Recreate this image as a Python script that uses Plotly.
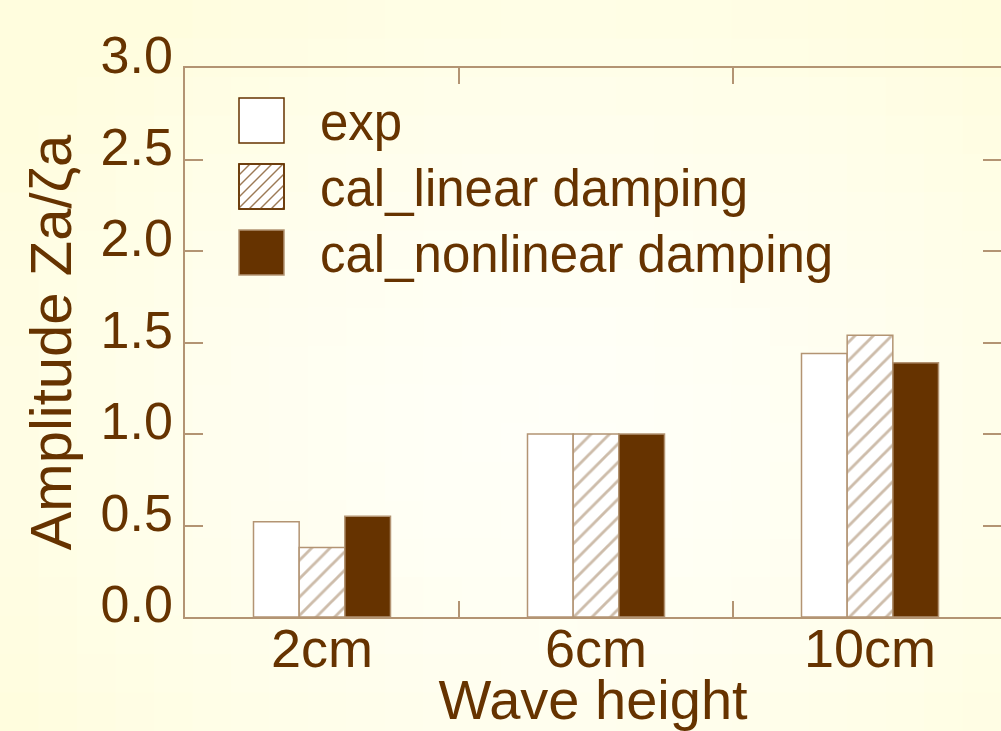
import plotly.graph_objects as go
import math

# ---- data ----
categories = ["2cm", "6cm", "10cm"]
exp_vals = [0.52, 1.00, 1.44]
cal_linear = [0.38, 1.00, 1.54]
cal_nonlinear = [0.55, 1.00, 1.39]
series_names = ["exp", "cal_linear damping", "cal_nonlinear damping"]
y_ticks = [0.0, 0.5, 1.0, 1.5, 2.0, 2.5, 3.0]
y_ticktext = ["0.0", "0.5", "1.0", "1.5", "2.0", "2.5", "3.0"]

BROWN = "#663300"
TAN = "#b39473"
HATCH = "#9c7a56"
FONT = "Arial, Liberation Sans, sans-serif"

W, H = 1001, 731
L, T, B, R = 185, 68, 114, 0
PW = W - L - R
PH = H - T - B


def px(x):
    return (x - L) / PW


def py(y):
    return (H - B - y) / PH


fig = go.Figure()
fig.add_trace(go.Bar(x=categories, y=exp_vals, name=series_names[0],
                     marker=dict(color="white", line=dict(color=TAN, width=1.5))))
fig.add_trace(go.Bar(x=categories, y=cal_linear, name=series_names[1],
                     marker=dict(color="white", line=dict(color=TAN, width=1.5),
                                 pattern=dict(shape="/", fgcolor=HATCH, bgcolor="white",
                                              size=13, solidity=0.22))))
fig.add_trace(go.Bar(x=categories, y=cal_nonlinear, name=series_names[2],
                     marker=dict(color=BROWN, line=dict(color=TAN, width=1.5))))

shapes = []
# background radial gradient
nx, ny = 26, 19
cx, cy = 560, 430
for i in range(nx):
    for j in range(ny):
        x0 = i * W / nx
        x1 = (i + 1) * W / nx
        y0 = j * H / ny
        y1 = (j + 1) * H / ny
        xm, ym = (x0 + x1) / 2, (y0 + y1) / 2
        d = math.hypot((xm - cx) / 1.0, (ym - cy) / 0.8)
        t = min(1.0, d / 650.0) ** 1.5
        g = round(255 - 2 * t)
        b = round(248 - 26 * t)
        shapes.append(dict(type="rect", xref="paper", yref="paper",
                           x0=px(x0), x1=px(x1 + 1), y0=py(y1 + 1), y1=py(y0),
                           fillcolor=f"rgb(255,{g},{b})", line=dict(width=0),
                           layer="below"))

# custom legend
bx0, bx1 = 239, 284
boxes = [(98, 143), (164, 209), (230, 275)]
fills = ["white", "white", BROWN]
for (y0, y1), fc in zip(boxes, fills):
    shapes.append(dict(type="rect", xref="paper", yref="paper",
                       x0=px(bx0), x1=px(bx1), y0=py(y1), y1=py(y0),
                       fillcolor=fc, line=dict(color=TAN if fc == BROWN else BROWN, width=1.5)))
y0, y1 = boxes[1]
size = bx1 - bx0
step = 11
for k in range(-size, size + step, step):
    pts = []
    for u in (0, size):
        v = u - k
        if 0 <= v <= (y1 - y0):
            pts.append((u, v))
    for v in (0, y1 - y0):
        u = v + k
        if 0 <= u <= size:
            pts.append((u, v))
    pts = sorted(set(pts))
    if len(pts) >= 2:
        (ua, va), (ub, vb) = pts[0], pts[-1]
        if (ua, va) != (ub, vb):
            shapes.append(dict(type="line", xref="paper", yref="paper",
                               x0=px(bx0 + ua), y0=py(y1 - va),
                               x1=px(bx0 + ub), y1=py(y1 - vb),
                               line=dict(color=HATCH, width=1.5)))
shapes.append(dict(type="rect", xref="paper", yref="paper",
                   x0=px(bx0), x1=px(bx1), y0=py(y1), y1=py(y0),
                   line=dict(color=BROWN, width=1.5)))

annotations = []
for name, (y0, y1) in zip(series_names, boxes):
    annotations.append(dict(text=name, xref="paper", yref="paper",
                            x=px(318), y=py((y0 + y1) / 2 + 2), xanchor="left", yanchor="middle",
                            showarrow=False, font=dict(family=FONT, size=51, color=BROWN)))

fig.update_layout(
    width=W, height=H,
    margin=dict(l=L, r=R, t=T, b=B, pad=0),
    paper_bgcolor="#fffff5",
    plot_bgcolor="rgba(0,0,0,0)",
    barmode="group", bargap=0.5, bargroupgap=0,
    showlegend=False,
    shapes=shapes,
    annotations=annotations,
    font=dict(family=FONT, color=BROWN),
    xaxis=dict(type="category", range=[-0.5, -0.5 + PW / 274.0], automargin=False,
               tickson="boundaries", ticks="inside", ticklen=16, tickwidth=1.5, tickcolor=TAN,
               showline=True, linecolor=TAN, linewidth=1.5, mirror="ticks",
               showgrid=False, zeroline=False, ticklabelstandoff=-17,
               tickfont=dict(family=FONT, size=54, color=BROWN),
               title=dict(text="Wave height", font=dict(family=FONT, size=56, color=BROWN), standoff=17)),
    yaxis=dict(range=[0, 3], automargin=False,
               tickmode="array", tickvals=y_ticks, ticktext=y_ticktext,
               ticklabelshift=-13,
               ticks="inside", ticklen=18, tickwidth=1.5, tickcolor=TAN,
               showline=True, linecolor=TAN, linewidth=1.5, mirror="ticks",
               showgrid=False, zeroline=False,
               tickfont=dict(family=FONT, size=52, color=BROWN),
               title=dict(text="Amplitude Za/ζa", font=dict(family=FONT, size=58, color=BROWN), standoff=10)),
)

fig.write_html("out.html", config={"displayModeBar": False},
               post_script="document.body.style.margin='0';document.body.style.padding='0';")
